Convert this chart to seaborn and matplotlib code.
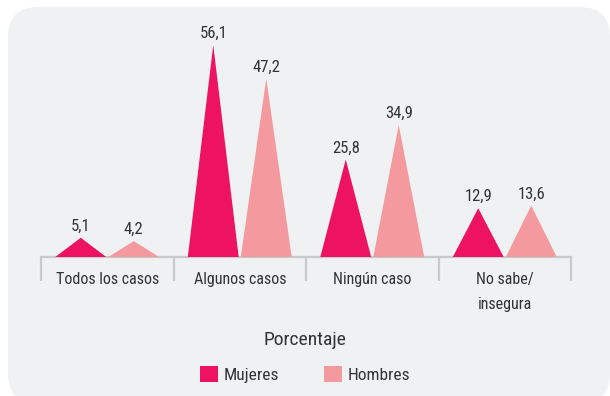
import matplotlib
matplotlib.use("Agg")
import matplotlib.pyplot as plt
from matplotlib import font_manager
from matplotlib.patches import FancyBboxPatch, Polygon, Patch
import seaborn as sns
import pandas as pd

categories = ["Todos los casos", "Algunos casos", "Ningún caso", "No sabe/\ninsegura"]
mujeres = [5.1, 56.1, 25.8, 12.9]
hombres = [4.2, 47.2, 34.9, 13.6]
series_names = ["Mujeres", "Hombres"]
colors = {"Mujeres": "#ee1262", "Hombres": "#f4999d"}

sns.set_theme(style="white")
names = {f.name for f in font_manager.fontManager.ttflist}
family = next((f for f in ["Liberation Sans Narrow", "Roboto Condensed", "Roboto"]
               if f in names), "DejaVu Sans")
plt.rcParams["font.family"] = [family, "DejaVu Sans"]

text_color = "#333333"
axis_color = "#c8c9cb"
panel_color = "#f0f1f3"

df = pd.DataFrame({
    "categoria": categories * 2,
    "serie": [series_names[0]] * len(categories) + [series_names[1]] * len(categories),
    "valor": mujeres + hombres,
})

fig = plt.figure(figsize=(6.10, 3.96), dpi=100)
fig.patch.set_facecolor("white")

# rounded background panel
panel = FancyBboxPatch((8 / 610, -0.02), 1.0 - 8 / 610, 1.02 - 7 / 396,
                       boxstyle="round,pad=0,rounding_size=0.05",
                       transform=fig.transFigure, facecolor=panel_color,
                       edgecolor="none", zorder=-5, mutation_aspect=610 / 396)
fig.patches.append(panel)

ax = fig.add_axes([41 / 610, 1 - 257 / 396, (571 - 41) / 610, (257 - 20) / 396])
ax.set_facecolor("none")
ax.set_zorder(2)

sns.barplot(data=df, x="categoria", y="valor", hue="serie", order=categories,
            hue_order=series_names, palette=colors, gap=0.04, ax=ax,
            legend=False, errorbar=None, saturation=1)

# turn each bar into a triangle with the apex at the bar's value
for bar in list(ax.patches):
    x0 = bar.get_x()
    w = bar.get_width()
    h = bar.get_height()
    tri = Polygon([(x0, 0), (x0 + w / 2, h), (x0 + w, 0)], closed=True,
                  facecolor=bar.get_facecolor(), edgecolor="none", zorder=3)
    ax.add_patch(tri)
    ax.annotate(f"{h:.1f}".replace(".", ","), (x0 + w / 2, h),
                xytext=(0, 3), textcoords="offset points", ha="center",
                va="bottom", fontsize=12, color=text_color)
    bar.set_visible(False)

ax.set_xlim(-0.5, len(categories) - 0.5)
ax.set_ylim(0, (257 - 20) / ((257 - 45) / 56.1))
ax.set_xlabel("")
ax.set_ylabel("")
ax.set_yticks([])
for side in ["top", "right", "left"]:
    ax.spines[side].set_visible(False)
ax.spines["bottom"].set_color(axis_color)
ax.spines["bottom"].set_linewidth(1.6)

# separator ticks between categories, labels centered in each group
ax.set_xticks([i - 0.5 for i in range(len(categories) + 1)])
ax.set_xticklabels([])
ax.tick_params(axis="x", which="major", length=17, width=1.6, color=axis_color,
               direction="out", bottom=True)
ax.set_xticks(range(len(categories)), minor=True)
ax.set_xticklabels(categories, minor=True, fontsize=11.5, color=text_color,
                   linespacing=1.8)
ax.tick_params(axis="x", which="minor", length=0, pad=11)

handles = [Patch(facecolor=colors[s], edgecolor="none") for s in series_names]
leg = fig.legend(handles, series_names, title="Porcentaje", ncol=2,
                 loc="center", bbox_to_anchor=(305 / 610, 1 - 357 / 396),
                 frameon=False, fontsize=12.5, title_fontsize=14,
                 handlelength=1.05, handleheight=1.05, handletextpad=0.3,
                 columnspacing=2.6, borderaxespad=0)
leg.get_title().set_color(text_color)
for t in leg.get_texts():
    t.set_color(text_color)
leg._legend_box.sep = 12

fig.savefig("out.png", dpi=100, facecolor="white")
